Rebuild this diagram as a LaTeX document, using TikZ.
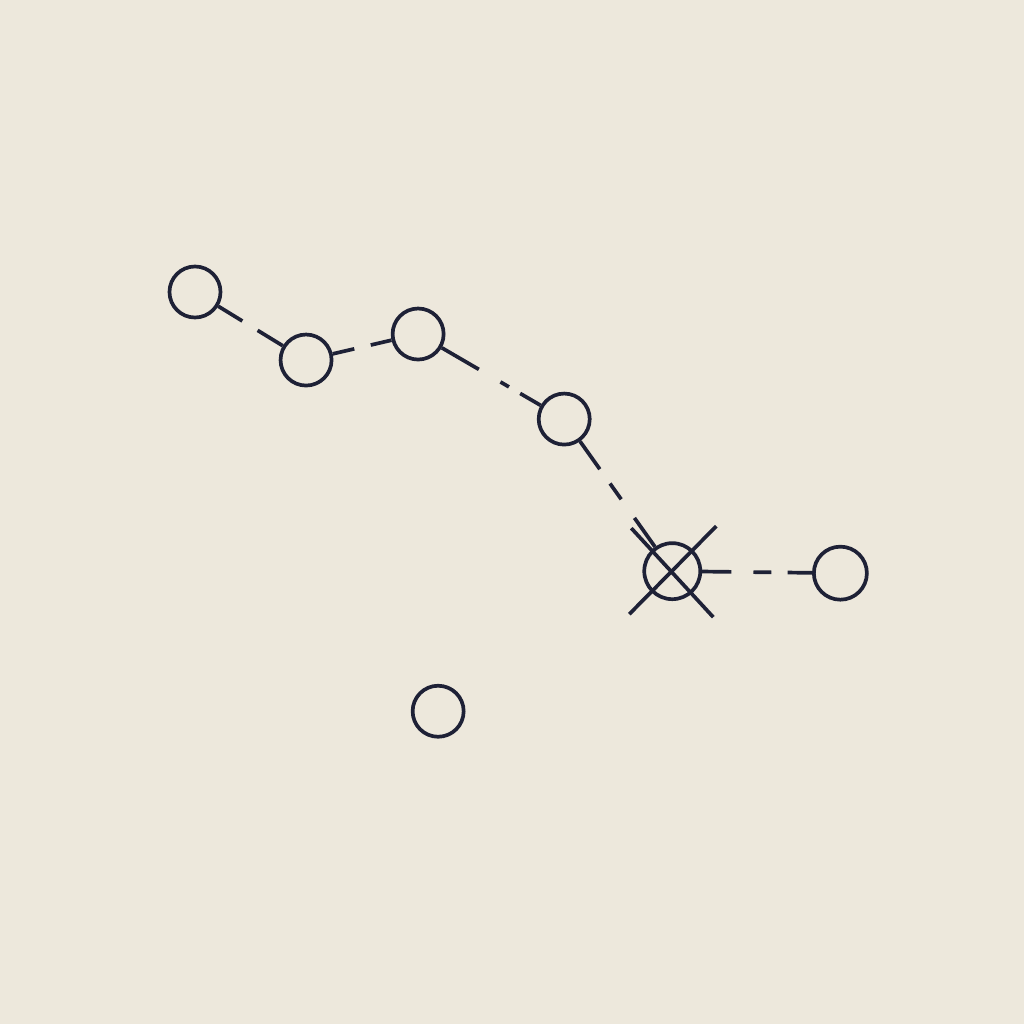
\documentclass[tikz,border=0pt]{standalone}
\usepackage{tikz}
\usetikzlibrary{positioning}
\definecolor{paper}{RGB}{237,232,220}
\definecolor{ink}{RGB}{30,33,54}

\begin{document}
\begin{tikzpicture}[x=0.01cm, y=-0.01cm, on grid,
        ring/.style={circle, draw=ink, line width=1.05pt, inner sep=0pt, minimum size=0.51cm},
        link/.style={draw=ink, line width=1.05pt}]
        \fill[paper] (0,0) rectangle (1024,1024);
        \node[ring] (c1) at (195,292) {};
        \node[ring] (c2) [below right = 0.68cm and 1.11cm of c1] {};
        \node[ring] (c3) [above right = 0.26cm and 1.12cm of c2] {};
        \node[ring] (c4) [below right = 0.85cm and 1.46cm of c3] {};
        \node[ring, minimum size=0.56cm] (c5) [below right = 1.52cm and 1.08cm of c4] {};
        \node[ring, minimum size=0.53cm] (c6) [below right = 0.02cm and 1.68cm of c5] {};
        \node[ring] (c7) [below left = 1.40cm and 2.34cm of c5] {};

        % crossed-out ring
        \draw[link] ([shift={(-41,-43)}]c5.center) -- ([shift={(41,46)}]c5.center);
        \draw[link] ([shift={(-43,43)}]c5.center) -- ([shift={(44,-45)}]c5.center);

        \path (c1) edge [link, dash pattern=on 8pt off 5.1pt on 9pt] (c2);
        \path (c2) edge [link, dash pattern=on 6.3pt off 4.8pt on 7pt] (c3);
        \path (c3) edge [link, dash pattern=on 12.2pt off 7.1pt on 2.8pt off 3.7pt on 8pt] (c4);
        \path (c4) edge [link, dash pattern=on 9.7pt off 5pt on 5.5pt off 6.5pt on 11pt] (c5);
        \path (c5) edge [link, dash pattern=on 8.3pt off 6.3pt on 5.1pt off 4.6pt on 8pt] (c6);
    \end{tikzpicture}
\end{document}
